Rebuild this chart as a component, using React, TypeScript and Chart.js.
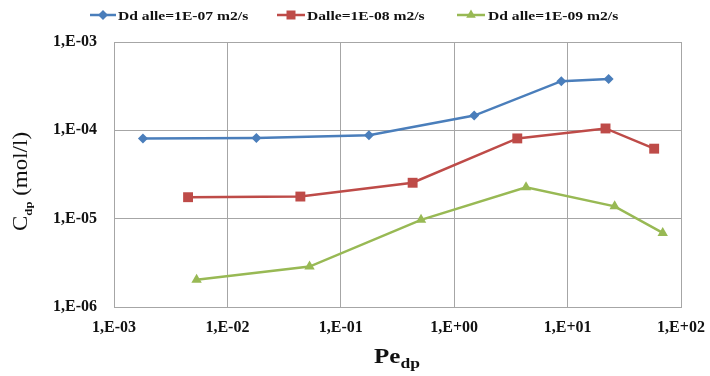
import React, { useEffect, useRef } from "react";
import { Chart, registerables } from "chart.js";

Chart.register(...registerables);

// ---------- data ----------
const seriesNames = ["Dd alle=1E-07 m2/s", "Dalle=1E-08 m2/s", "Dd alle=1E-09 m2/s"];

const blueX = [1.8e-3, 1.8e-2, 0.177, 1.5, 8.8, 23];
const blueY = [8.1e-5, 8.2e-5, 8.8e-5, 1.47e-4, 3.6e-4, 3.8e-4];

const redX = [4.5e-3, 4.4e-2, 0.43, 3.6, 21.6, 58];
const redY = [1.75e-5, 1.78e-5, 2.55e-5, 8.1e-5, 1.05e-4, 6.2e-5];

const greenX = [5.35e-3, 5.3e-2, 0.51, 4.3, 26, 69];
const greenY = [2.03e-6, 2.87e-6, 9.7e-6, 2.27e-5, 1.38e-5, 6.9e-6];

const xTickValues = [1e-3, 1e-2, 1e-1, 1, 10, 100];
const xTickLabels = ["1,E-03", "1,E-02", "1,E-01", "1,E+00", "1,E+01", "1,E+02"];
const yTickValues = [1e-6, 1e-5, 1e-4, 1e-3];
const yTickLabels = ["1,E-06", "1,E-05", "1,E-04", "1,E-03"];

const xTitleMain = "Pe";
const xTitleSub = "dp";
const yTitleMain = "C";
const yTitleSub = "dp";
const yTitleRest = " (mol/l)";

// ---------- styles ----------
const colors = ["#4A7EBB", "#BE4B48", "#98B954"];
const pointStyles = ["rectRot", "rect", "triangle"];
const pointRadii = [5, 7, 6];
const SERIF = "'Liberation Serif', 'Times New Roman', serif";
const GRID = "#A6A6A6";

function zip(xs: number[], ys: number[]) {
  return xs.map((x, i) => ({ x, y: ys[i] }));
}

function drawMarker(ctx: CanvasRenderingContext2D, style: string, x: number, y: number, color: string) {
  ctx.save();
  ctx.fillStyle = color;
  ctx.beginPath();
  if (style === "rectRot") {
    const r = 5;
    ctx.moveTo(x, y - r);
    ctx.lineTo(x + r, y);
    ctx.lineTo(x, y + r);
    ctx.lineTo(x - r, y);
  } else if (style === "rect") {
    const s = 4.5;
    ctx.rect(x - s, y - s, 2 * s, 2 * s);
  } else {
    const r = 5.5;
    ctx.moveTo(x, y - r);
    ctx.lineTo(x + r * 0.87, y + r * 0.5);
    ctx.lineTo(x - r * 0.87, y + r * 0.5);
  }
  ctx.closePath();
  ctx.fill();
  ctx.restore();
}

function stretchText(ctx: CanvasRenderingContext2D, text: string, x: number, y: number, sx: number) {
  const w = ctx.measureText(text).width * sx;
  ctx.save();
  ctx.translate(x, y);
  ctx.scale(sx, 1);
  ctx.fillText(text, 0, 0);
  ctx.restore();
  return w;
}

const decorPlugin = {
  id: "decor",
  afterDraw(chart: any) {
    const ctx: CanvasRenderingContext2D = chart.ctx;
    ctx.save();
    ctx.fillStyle = "#111";
    ctx.textBaseline = "alphabetic";
    ctx.textAlign = "left";

    // legend
    const legendItems = [
      { l0: 90, l1: 116, t: 118 },
      { l0: 277, l1: 305, t: 307 },
      { l0: 457, l1: 485, t: 488 },
    ];
    const ly = 15;
    legendItems.forEach((it, i) => {
      ctx.save();
      ctx.strokeStyle = colors[i];
      ctx.lineWidth = 2.5;
      ctx.beginPath();
      ctx.moveTo(it.l0, ly);
      ctx.lineTo(it.l1, ly);
      ctx.stroke();
      ctx.restore();
      drawMarker(ctx, pointStyles[i], (it.l0 + it.l1) / 2, ly, colors[i]);
      ctx.font = "bold 13px " + SERIF;
      ctx.fillStyle = "#111";
      stretchText(ctx, seriesNames[i], it.t, ly + 4.5, 1.2);
    });

    // x title
    ctx.font = "bold 20px " + SERIF;
    const wMain = ctx.measureText(xTitleMain).width * 1.25;
    ctx.font = "bold 14px " + SERIF;
    const wSub = ctx.measureText(xTitleSub).width * 1.25;
    const x0 = 397 - (wMain + wSub) / 2;
    ctx.font = "bold 20px " + SERIF;
    stretchText(ctx, xTitleMain, x0, 363, 1.25);
    ctx.font = "bold 14px " + SERIF;
    stretchText(ctx, xTitleSub, x0 + wMain, 368, 1.25);

    // y title (rotated)
    ctx.save();
    ctx.translate(27, 231);
    ctx.rotate(-Math.PI / 2);
    ctx.font = "20px " + SERIF;
    let px = stretchText(ctx, yTitleMain, 0, 0, 1.15);
    ctx.font = "bold 11px " + SERIF;
    px += stretchText(ctx, yTitleSub, px, 5, 1.15);
    ctx.font = "20px " + SERIF;
    stretchText(ctx, yTitleRest, px, 0, 1.15);
    ctx.restore();

    ctx.restore();
  },
};

export default function App() {
  const canvasRef = useRef<HTMLCanvasElement | null>(null);

  useEffect(() => {
    document.body.style.margin = "0";
    const canvas = canvasRef.current;
    if (!canvas) return;

    const seriesX = [blueX, redX, greenX];
    const seriesY = [blueY, redY, greenY];

    const chart = new Chart(canvas, {
      type: "line",
      data: {
        datasets: seriesNames.map((name, i) => ({
          label: name,
          data: zip(seriesX[i], seriesY[i]),
          borderColor: colors[i],
          backgroundColor: colors[i],
          borderWidth: 2.5,
          pointStyle: pointStyles[i] as any,
          pointRadius: pointRadii[i],
          pointBorderWidth: 0,
          pointBackgroundColor: colors[i],
          tension: 0,
          fill: false,
        })),
      },
      options: {
        animation: false,
        responsive: false,
        devicePixelRatio: 1,
        layout: { padding: { top: 42, right: 29, left: 0, bottom: 0 } },
        plugins: {
          legend: { display: false },
          tooltip: { enabled: false },
        },
        scales: {
          x: {
            type: "logarithmic",
            min: 1e-3,
            max: 1e2,
            afterBuildTicks: (axis: any) => {
              axis.ticks = xTickValues.map((v) => ({ value: v, major: true }));
            },
            afterFit: (axis: any) => {
              axis.height = 69;
              axis.paddingLeft = 0;
              axis.paddingRight = 0;
            },
            ticks: {
              autoSkip: false,
              maxRotation: 0,
              padding: 11,
              color: "#111",
              font: { family: SERIF, size: 16, weight: "bold" },
              callback: (_v: any, i: number) => xTickLabels[i],
            },
            grid: { color: GRID, lineWidth: 1, drawTicks: false },
            border: { color: GRID, width: 1 },
          },
          y: {
            type: "logarithmic",
            min: 1e-6,
            max: 1e-3,
            afterBuildTicks: (axis: any) => {
              axis.ticks = yTickValues.map((v) => ({ value: v, major: true }));
            },
            afterFit: (axis: any) => {
              axis.width = 114;
              axis.paddingTop = 0;
              axis.paddingBottom = 0;
            },
            ticks: {
              autoSkip: false,
              padding: 17,
              color: "#111",
              font: { family: SERIF, size: 16, weight: "bold" },
              callback: (_v: any, i: number) => yTickLabels[i],
            },
            grid: { color: GRID, lineWidth: 1, drawTicks: false },
            border: { color: GRID, width: 1 },
          },
        },
      } as any,
      plugins: [decorPlugin],
    });

    return () => chart.destroy();
  }, []);

  return (
    <div style={{ width: 710, height: 376, background: "#fff" }}>
      <canvas ref={canvasRef} width={710} height={376} style={{ display: "block" }} />
    </div>
  );
}
